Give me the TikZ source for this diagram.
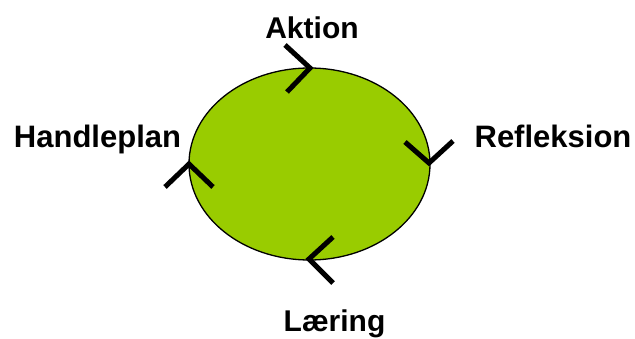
\documentclass[tikz,border=0pt]{standalone}
\usepackage{fontspec}
\setmainfont{Liberation Sans}
\usetikzlibrary{shapes.geometric,calc}
\definecolor{cyclegreen}{HTML}{99CC00}
\begin{document}
\begin{tikzpicture}[x=1pt,y=1pt,
  lbl/.style={font=\fontsize{30}{30}\selectfont\bfseries, anchor=base, inner sep=0pt},
  lblw/.style={lbl, font=\fontsize{31}{31}\selectfont\bfseries},
  chev/.style={line width=5pt, line cap=butt, line join=miter}]
\useasboundingbox (0,0) rectangle (635,338);
\node[ellipse, draw=black, line width=1.3pt, fill=cyclegreen,
      minimum width=241pt, minimum height=192pt, inner sep=0pt] (ell) at (309.5,174) {};
\node[lbl] (aktion) at (312,299) {Aktion};
\node[lblw] (refl) at (553,190) {Refleksion};
\node[lblw] (handle) at (97.5,190) {Handleplan};
\node[lbl] (laer) at (334.5,7) {Læring};
\coordinate (ct) at (310,270);
\coordinate (cr) at (429,175);
\coordinate (cb) at (309,79);
\coordinate (cl) at (189,174);
\draw[chev] ($(ct)+(-25,23)$) -- (ct) -- ($(ct)+(-23,-24)$);
\draw[chev] ($(cr)+(-24,21)$) -- (cr) -- ($(cr)+(24,22)$);
\draw[chev] ($(cb)+(24,22)$) -- (cb) -- ($(cb)+(24,-24)$);
\draw[chev] ($(cl)+(-24,-23)$) -- (cl) -- ($(cl)+(24,-23)$);
\end{tikzpicture}
\end{document}
